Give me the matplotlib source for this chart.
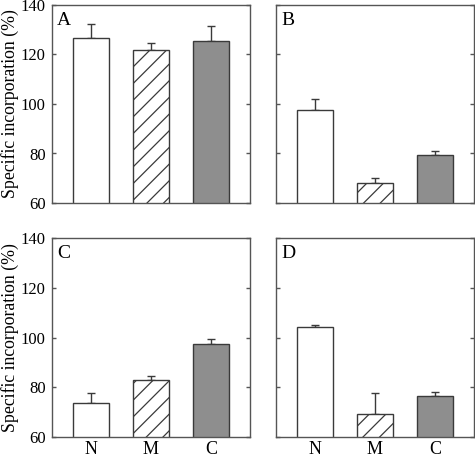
#!/usr/bin/env python3
# Specific incorporation, four panels (A-D), N / M / C bars
import matplotlib
matplotlib.use("Agg")
import matplotlib.pyplot as plt

plt.rcParams["font.family"] = ["Liberation Serif", "DejaVu Serif"]
plt.rcParams["hatch.linewidth"] = 0.9

categories = ["N", "M", "C"]
panels = ["A", "B", "C", "D"]

values = {
    "A": [126.8, 121.7, 125.4],
    "B": [97.4, 68.0, 79.3],
    "C": [73.7, 83.0, 97.4],
    "D": [104.2, 69.4, 76.6],
}
errors = {
    "A": [5.4, 2.8, 6.0],
    "B": [4.6, 1.9, 1.8],
    "C": [3.8, 1.6, 1.8],
    "D": [1.0, 8.2, 1.5],
}

yticks = [60, 80, 100, 120, 140]

faces = ["white", "white", "#8e8e8e"]
hatches = ["", "//", ""]
edge = "#3a3a3a"
spine_col = "#555555"

fig = plt.figure(figsize=(4.75, 4.59), dpi=100)

# axes rectangles in figure fractions
W, H = 475.0, 459.0
boxes = {
    "A": (52 / W, (H - 203) / H, 198 / W, 198 / H),
    "B": (276 / W, (H - 203) / H, 198 / W, 198 / H),
    "C": (52 / W, (H - 437) / H, 198 / W, 199 / H),
    "D": (276 / W, (H - 437) / H, 198 / W, 199 / H),
}

for name in panels:
    ax = fig.add_axes(boxes[name])
    x = range(len(categories))
    ax.bar(
        x,
        values[name],
        width=0.6,
        color=faces,
        edgecolor=edge,
        linewidth=1.0,
        zorder=2,
    )
    # hatch per bar
    for bar, h in zip(ax.patches, hatches):
        bar.set_hatch(h)
    ax.errorbar(
        x,
        values[name],
        yerr=[[0, 0, 0], errors[name]],
        fmt="none",
        ecolor=edge,
        elinewidth=1.0,
        capsize=3.0,
        capthick=1.0,
        zorder=1,
    )

    ax.set_xlim(-0.65, 2.65)
    ax.set_ylim(60, 140)
    ax.set_yticks(yticks)
    ax.set_xticks(list(x))

    for s in ax.spines.values():
        s.set_color(spine_col)
        s.set_linewidth(1.0)

    ax.tick_params(axis="y", direction="in", length=3, width=1.0,
                   color=spine_col, left=True, right=True, pad=4.5,
                   labelsize=12)
    ax.tick_params(axis="x", length=0, pad=3, labelsize=13)

    if name in ("A", "C"):
        ax.set_ylabel("Specific incorporation (%)", fontsize=12.8)
        ax.yaxis.set_label_coords(-0.165, 0.5)
    else:
        ax.set_yticklabels([])

    if name in ("C", "D"):
        ax.set_xticklabels(categories)
    else:
        ax.set_xticklabels([])

    ax.text(0.025, 0.965, name, transform=ax.transAxes, ha="left", va="top",
            fontsize=14)

fig.savefig("out.png", dpi=100)
